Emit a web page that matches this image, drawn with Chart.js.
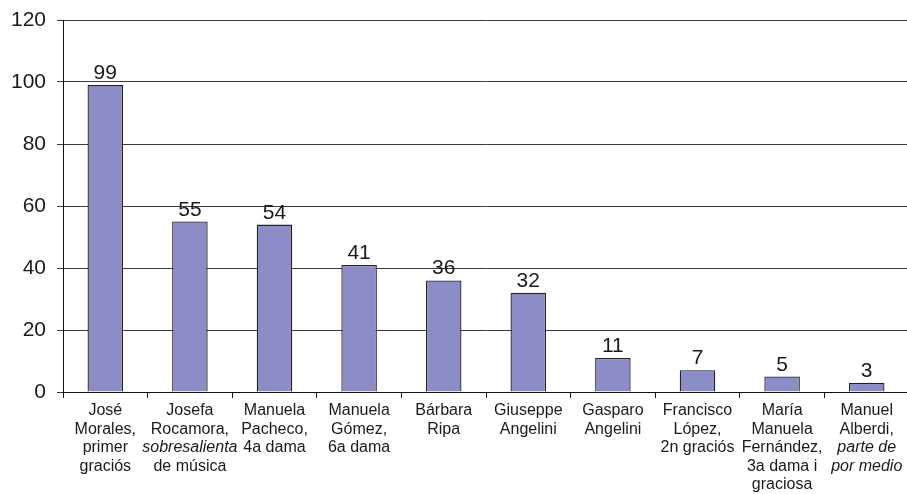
<!DOCTYPE html>
<html>
<head>
<meta charset="utf-8">
<script src="https://cdn.jsdelivr.net/npm/chart.js@4.4.0/dist/chart.umd.min.js"></script>
<style>
  html, body { margin: 0; padding: 0; background: #fff; overflow: hidden; }
  #wrap { width: 910px; height: 494px; }
</style>
</head>
<body>
<div id="wrap"><canvas id="castChart"></canvas></div>
<script>
// Cast members; text between underscores is set in italics
const categories = [
    ['José', 'Morales,', 'primer', 'graciós'],
    ['Josefa', 'Rocamora,', '_sobresalienta_', 'de música'],
    ['Manuela', 'Pacheco,', '4a dama'],
    ['Manuela', 'Gómez,', '6a dama'],
    ['Bárbara', 'Ripa'],
    ['Giuseppe', 'Angelini'],
    ['Gasparo', 'Angelini'],
    ['Francisco', 'López,', '2n graciós'],
    ['María', 'Manuela', 'Fernández,', '3a dama i', 'graciosa'],
    ['Manuel', 'Alberdi,', '_parte de_', '_por medio_']
];
const counts = [99, 55, 54, 41, 36, 32, 11, 7, 5, 3];
const yTicks = [0, 20, 40, 60, 80, 100, 120];

const FONT = '"Liberation Sans", Arial, Helvetica, sans-serif';

// Split a line into plain / italic runs
function runs(line) {
    return line.split('_').map((t, i) => ({ text: t, italic: i % 2 === 1 })).filter(r => r.text);
}

// Value labels above each bar
const valueLabels = {
    id: 'valueLabels',
    afterDatasetsDraw(chart) {
        const ctx = chart.ctx;
        const meta = chart.getDatasetMeta(0);
        ctx.save();
        ctx.font = '21px ' + FONT;
        ctx.fillStyle = '#1a1a1a';
        ctx.textAlign = 'center';
        ctx.textBaseline = 'alphabetic';
        meta.data.forEach((bar, i) => {
            ctx.fillText(String(counts[i]), bar.x, bar.y - 6);
        });
        ctx.restore();
    }
};

// Multi-line category labels with italic runs
const categoryLabels = {
    id: 'categoryLabels',
    afterDraw(chart) {
        const ctx = chart.ctx;
        const xScale = chart.scales.x;
        const top = chart.chartArea.bottom + 19;
        ctx.save();
        ctx.fillStyle = '#1a1a1a';
        ctx.textBaseline = 'middle';
        ctx.textAlign = 'left';
        categories.forEach((lines, i) => {
            const cx = xScale.getPixelForValue(i);
            lines.forEach((line, j) => {
                const parts = runs(line);
                let total = 0;
                parts.forEach(p => {
                    ctx.font = (p.italic ? 'italic ' : '') + '16px ' + FONT;
                    p.w = ctx.measureText(p.text).width;
                    total += p.w;
                });
                let x = cx - total / 2;
                parts.forEach(p => {
                    ctx.font = (p.italic ? 'italic ' : '') + '16px ' + FONT;
                    ctx.fillText(p.text, x, top + j * 18.5);
                    x += p.w;
                });
            });
        });
        ctx.restore();
    }
};

function initCastChart() {
    const ctx = document.getElementById('castChart').getContext('2d');
    return new Chart(ctx, {
        type: 'bar',
        data: {
            labels: categories.map(c => c.join(' ')),
            datasets: [{
                data: counts,
                backgroundColor: '#8c8cc6',
                borderColor: '#222',
                borderWidth: 1.3,
                borderSkipped: 'bottom',
                categoryPercentage: 1,
                barPercentage: 0.42
            }]
        },
        options: {
            responsive: true,
            maintainAspectRatio: false,
            animation: false,
            layout: { padding: { top: 20, right: 1, bottom: 96, left: 0 } },
            plugins: {
                legend: { display: false },
                tooltip: { enabled: false }
            },
            scales: {
                x: {
                    offset: true,
                    border: { color: '#111', width: 1 },
                    grid: {
                        offset: true,
                        drawOnChartArea: false,
                        drawTicks: true,
                        tickLength: 6,
                        color: '#111'
                    },
                    ticks: { display: false }
                },
                y: {
                    min: 0,
                    max: 120,
                    afterBuildTicks(axis) {
                        axis.ticks = yTicks.map(v => ({ value: v }));
                    },
                    afterFit(axis) {
                        axis.width = 63;
                        axis.paddingTop = 0;
                        axis.paddingBottom = 0;
                    },
                    border: { color: '#111', width: 1 },
                    grid: {
                        color: '#3a3a3a',
                        lineWidth: 1,
                        drawTicks: true,
                        tickLength: 6
                    },
                    ticks: {
                        padding: 11,
                        color: '#1a1a1a',
                        font: { family: FONT, size: 21 }
                    }
                }
            }
        },
        plugins: [valueLabels, categoryLabels]
    });
}

document.addEventListener('DOMContentLoaded', () => {
    initCastChart();
});
</script>
</body>
</html>
